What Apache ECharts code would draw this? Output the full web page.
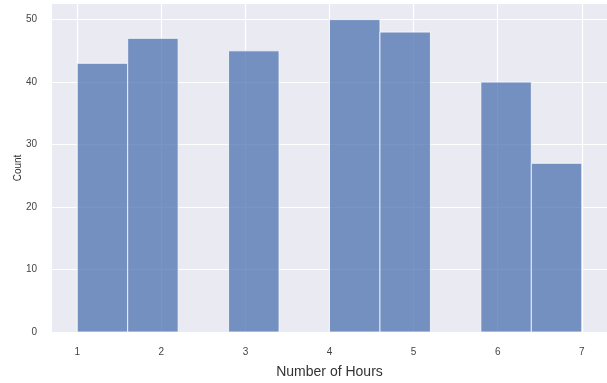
<!DOCTYPE html>
<html>
<head>
<meta charset="utf-8">
<script src="https://cdn.jsdelivr.net/npm/echarts@6/dist/echarts.min.js"></script>
<style>html,body{margin:0;padding:0;background:#fff;}#c{width:607px;height:383px;}</style>
</head>
<body>
<div id="c"></div>
<script>
var binStarts = [1.0, 1.6, 2.2, 2.8, 3.4, 4.0, 4.6, 5.2, 5.8, 6.4];
var binEnds   = [1.6, 2.2, 2.8, 3.4, 4.0, 4.6, 5.2, 5.8, 6.4, 7.0];
var counts    = [43, 47, 0, 45, 0, 50, 48, 0, 40, 27];
var xTicks = [1, 2, 3, 4, 5, 6, 7];
var yTicks = [0, 10, 20, 30, 40, 50];

var data = binStarts.map(function (s, i) { return [s, binEnds[i], counts[i]]; });
var font = 'Liberation Sans, Arial, sans-serif';

var chart = echarts.init(document.getElementById('c'));
chart.setOption({
  animation: false,
  grid: { left: 52, right: 0, top: 4, bottom: 51, show: true, backgroundColor: '#EAEAF2', borderWidth: 0,
          containLabel: false, outerBoundsMode: 'none' },
  xAxis: {
    type: 'value', min: 0.7, max: 7.3,
    name: 'Number of Hours', nameLocation: 'middle', nameGap: 33, nameMoveOverlap: false,
    nameTextStyle: { fontFamily: font, fontSize: 14, color: '#333' },
    axisLine: { show: false },
    axisTick: { show: false, customValues: xTicks },
    axisLabel: { customValues: xTicks, fontFamily: font, fontSize: 10, color: '#444', margin: 15 },
    splitLine: { show: true, lineStyle: { color: '#ffffff', width: 1.2 } }
  },
  yAxis: {
    type: 'value', min: 0, max: 52.5,
    name: 'Count', nameLocation: 'middle', nameGap: 29, nameRotate: 90, nameMoveOverlap: false,
    nameTextStyle: { fontFamily: font, fontSize: 10, color: '#333' },
    axisLine: { show: false },
    axisTick: { show: false, customValues: yTicks },
    axisLabel: { customValues: yTicks, fontFamily: font, fontSize: 10, color: '#444', margin: 15 },
    splitLine: { show: true, lineStyle: { color: '#ffffff', width: 1.2 } }
  },
  series: [{
    type: 'custom',
    data: data,
    encode: { x: [0, 1], y: 2 },
    renderItem: function (params, api) {
      var v = api.value(2);
      if (!v) return null;
      var p0 = api.coord([api.value(0), v]);
      var p1 = api.coord([api.value(1), 0]);
      return {
        type: 'rect',
        shape: { x: p0[0], y: p0[1], width: p1[0] - p0[0], height: p1[1] - p0[1] },
        style: { fill: 'rgba(76,114,176,0.75)', stroke: 'rgba(255,255,255,0.75)', lineWidth: 1 }
      };
    }
  }]
});
</script>
</body>
</html>
